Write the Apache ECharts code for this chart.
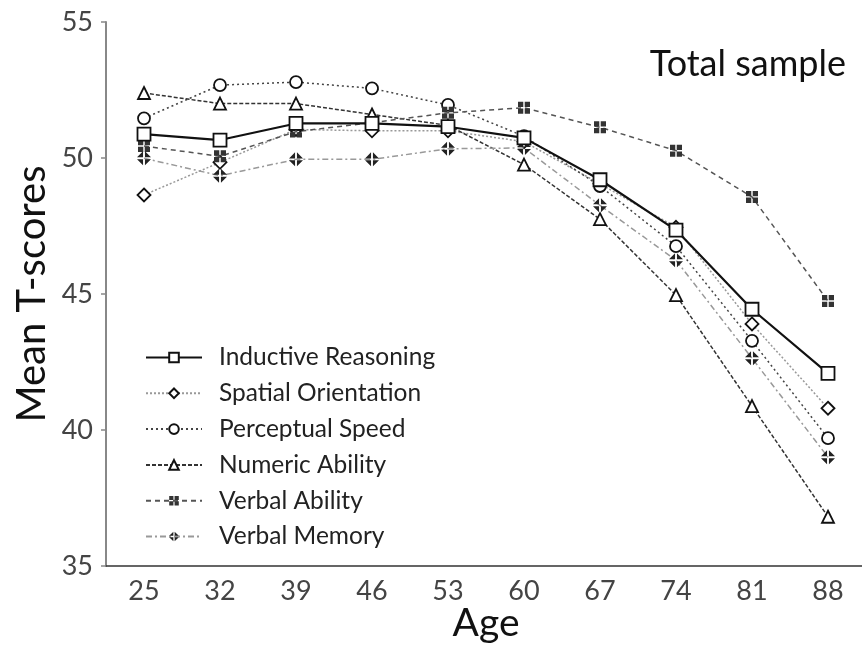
<!DOCTYPE html>
<html>
<head>
<meta charset="utf-8">
<script src="https://cdn.jsdelivr.net/npm/echarts@6/dist/echarts.min.js"></script>
<style>
html,body{margin:0;padding:0;background:#fff;}
#chart{width:862px;height:647px;}
</style>
</head>
<body>
<div id="chart"></div>
<script>
var ages = ['25', '32', '39', '46', '53', '60', '67', '74', '81', '88'];
var yTicks = [35, 40, 45, 50, 55];
var inductiveReasoning = [50.88, 50.66, 51.27, 51.27, 51.15, 50.74, 49.20, 47.35, 44.44, 42.08];
var spatialOrientation = [48.64, 49.84, 51.05, 51.00, 51.00, 50.60, 49.05, 47.45, 43.90, 40.80];
var perceptualSpeed = [51.46, 52.68, 52.79, 52.56, 51.95, 50.80, 48.97, 46.76, 43.28, 39.70];
var numericAbility = [52.39, 52.00, 52.00, 51.60, 51.20, 49.76, 47.75, 44.96, 40.88, 36.81];
var verbalAbility = [50.44, 50.06, 50.97, 51.30, 51.66, 51.85, 51.13, 50.27, 48.57, 44.74];
var verbalMemory = [49.99, 49.35, 49.95, 49.95, 50.34, 50.37, 48.26, 46.24, 42.64, 39.00];

var FONT = 'Lato, "Noto Sans", sans-serif';
var gridSym = 'path://M0,0H4.4V4.4H0Z M5.6,0H10V4.4H5.6Z M0,5.6H4.4V10H0Z M5.6,5.6H10V10H5.6Z';
var crossDiamond = 'path://M4.4,0.6L4.4,4.4L0.6,4.4Z M5.6,0.6L9.4,4.4L5.6,4.4Z M0.6,5.6L4.4,5.6L4.4,9.4Z M5.6,5.6L9.4,5.6L5.6,9.4Z';

function emptyItem() { return { color: '#fff', borderColor: '#111', borderWidth: 1.8 }; }

var chart = echarts.init(document.getElementById('chart'));
chart.setOption({
  animation: false,
  backgroundColor: '#fff',
  grid: { left: 106, top: 22, width: 760, bottom: 81, containLabel: false, outerBoundsMode: 'none' },
  legend: {
    orient: 'vertical', left: 145, top: 345, padding: 0,
    itemWidth: 56, itemHeight: 12, itemGap: 10.8,
    data: ['Inductive Reasoning', 'Spatial Orientation', 'Perceptual Speed', 'Numeric Ability', 'Verbal Ability', 'Verbal Memory'],
    textStyle: { fontFamily: FONT, fontSize: 24.5, color: '#222', lineHeight: 21, padding: [0, 0, 0, 12] }
  },
  graphic: [{
    type: 'text', right: 16, top: 46,
    style: { text: 'Total sample', fontFamily: FONT, fontSize: 36, fill: '#111' }
  }],
  xAxis: {
    type: 'category', data: ages, boundaryGap: true,
    name: 'Age', nameLocation: 'middle', nameGap: 38, nameMoveOverlap: false,
    nameTextStyle: { fontFamily: FONT, fontSize: 39, color: '#111' },
    axisLine: { lineStyle: { color: '#333', width: 1.5 } },
    axisTick: { alignWithLabel: true, length: 6, lineStyle: { color: '#888', width: 1.5 } },
    axisLabel: { fontFamily: FONT, fontSize: 27, color: '#444', margin: 12 },
    splitLine: { show: false }
  },
  yAxis: {
    type: 'value', min: 35, max: 55, interval: 5,
    name: 'Mean T-scores', nameLocation: 'middle', nameGap: 54, nameMoveOverlap: false,
    nameTextStyle: { fontFamily: FONT, fontSize: 40, color: '#111' },
    axisLine: { show: true, lineStyle: { color: '#888', width: 2 } },
    axisTick: { show: true, length: 5, lineStyle: { color: '#888', width: 1.5 } },
    axisLabel: { fontFamily: FONT, fontSize: 27, color: '#444', margin: 13 },
    splitLine: { show: false }
  },
  series: [
    { name: 'Spatial Orientation', type: 'line', data: spatialOrientation, z: 3,
      symbol: 'diamond', symbolSize: 13, itemStyle: emptyItem(),
      lineStyle: { color: '#999', width: 1.5, type: [2, 2] } },
    { name: 'Perceptual Speed', type: 'line', data: perceptualSpeed, z: 4,
      symbol: 'circle', symbolSize: 12, itemStyle: emptyItem(),
      lineStyle: { color: '#444', width: 1.5, type: [2, 3] } },
    { name: 'Numeric Ability', type: 'line', data: numericAbility, z: 4,
      symbol: 'triangle', symbolSize: 12, itemStyle: emptyItem(),
      lineStyle: { color: '#333', width: 1.5, type: [4, 2] } },
    { name: 'Verbal Ability', type: 'line', data: verbalAbility, z: 4,
      symbol: gridSym, symbolSize: 12, itemStyle: { color: '#333' },
      lineStyle: { color: '#555', width: 1.5, type: [5, 4] } },
    { name: 'Verbal Memory', type: 'line', data: verbalMemory, z: 4,
      symbol: crossDiamond, symbolSize: 14, itemStyle: { color: '#222' },
      lineStyle: { color: '#999', width: 1.5, type: [6, 3, 2, 3] } },
    { name: 'Inductive Reasoning', type: 'line', data: inductiveReasoning, z: 6,
      symbol: 'rect', symbolSize: 13, itemStyle: emptyItem(),
      lineStyle: { color: '#111', width: 2.2, type: 'solid' } }
  ]
});
</script>
</body>
</html>
